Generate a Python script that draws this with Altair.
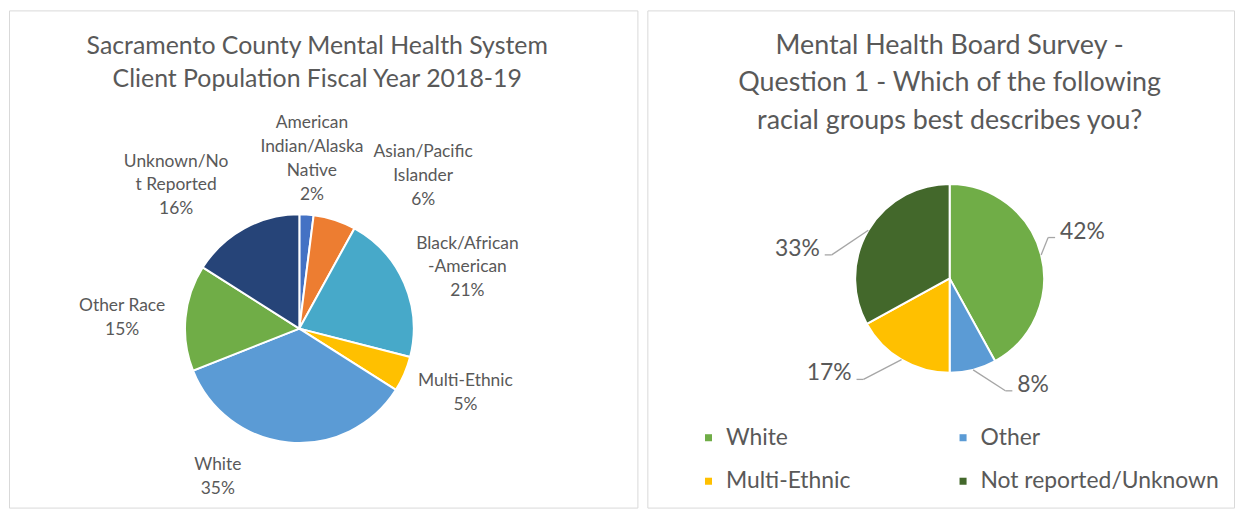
import altair as alt
import pandas as pd

# ---------------- data ----------------
left_title = "Sacramento County Mental Health System\nClient Population Fiscal Year 2018-19"
left_categories = ["American Indian/Alaska Native", "Asian/Pacific Islander",
                   "Black/African-American", "Multi-Ethnic", "White",
                   "Other Race", "Unknown/Not Reported"]
left_values = [2, 6, 21, 5, 35, 15, 16]
left_label_lines = ["American\nIndian/Alaska\nNative", "Asian/Pacific\nIslander",
                    "Black/African\n-American", "Multi-Ethnic", "White",
                    "Other Race", "Unknown/No\nt Reported"]

right_title = "Mental Health Board Survey -\nQuestion 1 - Which of the following\nracial groups best describes you?"
right_categories = ["White", "Other", "Multi-Ethnic", "Not reported/Unknown"]
right_values = [42, 8, 17, 33]

# ---------------- style ----------------
left_colors = ["#4472C4", "#ED7D31", "#47A9C9", "#FFC000", "#5B9BD5", "#70AD47", "#264478"]
right_colors = ["#70AD47", "#5B9BD5", "#FFC000", "#43682B"]

left_nudge_dx = [2, 72, 13, 11, -66, -9, -42]
left_nudge_dy = [-1, 8, 6, -3, -20, 5, 5]
right_nudge_dx = [-10, 37, -35, -23]
right_nudge_dy = [-16, -14, -12, 34]

FONT = "Lato"
GRAY = "#595959"
LINE_GRAY = "#a6a6a6"

LW, LH = 632, 500
RW, RH = 590, 500
L_CX, L_CY, L_R, L_RL = 292, 320, 115, 170
R_CX, R_CY, R_R, R_RL = 304, 269.5, 95, 125
L_LINE_H = 24


def polar_calc(chart, cx, cy, r, rl):
    return chart.transform_joinaggregate(
        total="sum(value)"
    ).transform_window(
        cum="sum(value)", sort=[alt.SortField("order")], frame=[None, 0]
    ).transform_calculate(
        mid="(datum.cum - datum.value / 2) / datum.total * 2 * PI",
        side="sin(datum.mid) >= 0 ? 1 : -1",
        ex=f"{cx} + {r} * sin(datum.mid)",
        ey=f"{cy} - {r} * cos(datum.mid)",
        lx=f"{cx} + {rl} * sin(datum.mid) + datum.ndx",
        ly=f"{cy} - {rl} * cos(datum.mid) + datum.ndy",
    )


# ---------------- left panel ----------------
ldf = pd.DataFrame({"cat": left_categories, "value": left_values,
                    "lab": left_label_lines, "order": list(range(len(left_values))),
                    "ndx": left_nudge_dx, "ndy": left_nudge_dy})
lbase = alt.Chart(ldf)

pie_l = lbase.mark_arc(stroke="white", strokeWidth=2, radius=L_R).encode(
    theta=alt.Theta("value:Q", stack=True),
    color=alt.Color("cat:N", scale=alt.Scale(domain=left_categories, range=left_colors), legend=None),
    order=alt.Order("order:Q"),
    x=alt.value(L_CX), y=alt.value(L_CY),
)

lab_l = polar_calc(lbase, L_CX, L_CY, L_R, L_RL).transform_calculate(
    txt="datum.lab + '\\n' + datum.value + '%'"
).transform_calculate(
    ly0=f"datum.ly - (length(split(datum.txt, '\\n')) - 1) * {L_LINE_H / 2}"
).mark_text(font=FONT, fontSize=17.5, color=GRAY, lineBreak="\n", align="center",
            baseline="middle", lineHeight=L_LINE_H).encode(
    x=alt.X("lx:Q", scale=None), y=alt.Y("ly0:Q", scale=None), text="txt:N"
)

title_l = alt.Chart(pd.DataFrame({"t": [left_title]})).mark_text(
    font=FONT, fontSize=25, color=GRAY, lineBreak="\n", align="center",
    baseline="middle", lineHeight=33
).encode(x=alt.value(310), y=alt.value(36), text="t:N")

left = alt.layer(pie_l, lab_l, title_l).properties(width=LW, height=LH)

# ---------------- right panel ----------------
rdf = pd.DataFrame({"group": right_categories, "value": right_values,
                    "order": list(range(len(right_values))),
                    "ndx": right_nudge_dx, "ndy": right_nudge_dy})
rbase = alt.Chart(rdf)

pie_r = rbase.mark_arc(stroke="white", strokeWidth=2, radius=R_R).encode(
    theta=alt.Theta("value:Q", stack=True),
    color=alt.Color("group:N", scale=alt.Scale(domain=right_categories, range=right_colors),
                    legend=alt.Legend(orient="none", legendX=50, legendY=418, columns=2,
                                      direction="horizontal",
                                      title=None, symbolType="square", symbolSize=50,
                                      symbolStrokeWidth=0, labelFont=FONT, labelFontSize=23,
                                      labelColor=GRAY, labelLimit=0, columnPadding=101,
                                      rowPadding=20, labelOffset=6)),
    order=alt.Order("order:Q"),
    x=alt.value(R_CX), y=alt.value(R_CY),
)

rcalc = polar_calc(rbase, R_CX, R_CY, R_R, R_RL).transform_calculate(
    elx="datum.lx - datum.side * 12",
    ely="datum.ly + 6",
    tlx="datum.lx - datum.side * 5",
    txt="datum.value + '%'",
)

lead1 = rcalc.mark_rule(color=LINE_GRAY, strokeWidth=1.3).encode(
    x=alt.X("ex:Q", scale=None), y=alt.Y("ey:Q", scale=None),
    x2="elx:Q", y2="ely:Q")
lead2 = rcalc.mark_rule(color=LINE_GRAY, strokeWidth=1.3).encode(
    x=alt.X("elx:Q", scale=None), y=alt.Y("ely:Q", scale=None),
    x2="tlx:Q", y2="ely:Q")

txt_r1 = rcalc.transform_filter("datum.side > 0").mark_text(
    font=FONT, fontSize=23, color=GRAY, align="left", baseline="middle").encode(
    x=alt.X("lx:Q", scale=None), y=alt.Y("ly:Q", scale=None), text="txt:N")
txt_r2 = rcalc.transform_filter("datum.side < 0").mark_text(
    font=FONT, fontSize=23, color=GRAY, align="right", baseline="middle").encode(
    x=alt.X("lx:Q", scale=None), y=alt.Y("ly:Q", scale=None), text="txt:N")

title_r = alt.Chart(pd.DataFrame({"t": [right_title]})).mark_text(
    font=FONT, fontSize=27, color=GRAY, lineBreak="\n", align="center",
    baseline="middle", lineHeight=37.5
).encode(x=alt.value(304), y=alt.value(36), text="t:N")

right = alt.layer(pie_r, lead1, lead2, txt_r1, txt_r2, title_r).properties(width=RW, height=RH)

chart = alt.hconcat(left, right, spacing=8).resolve_scale(
    color="independent"
).resolve_legend(color="independent").properties(
    padding=0, background="white"
).configure_view(stroke="#d9d9d9", strokeWidth=1)

chart.save("out.html", embed_options={"renderer": "svg", "actions": False})
